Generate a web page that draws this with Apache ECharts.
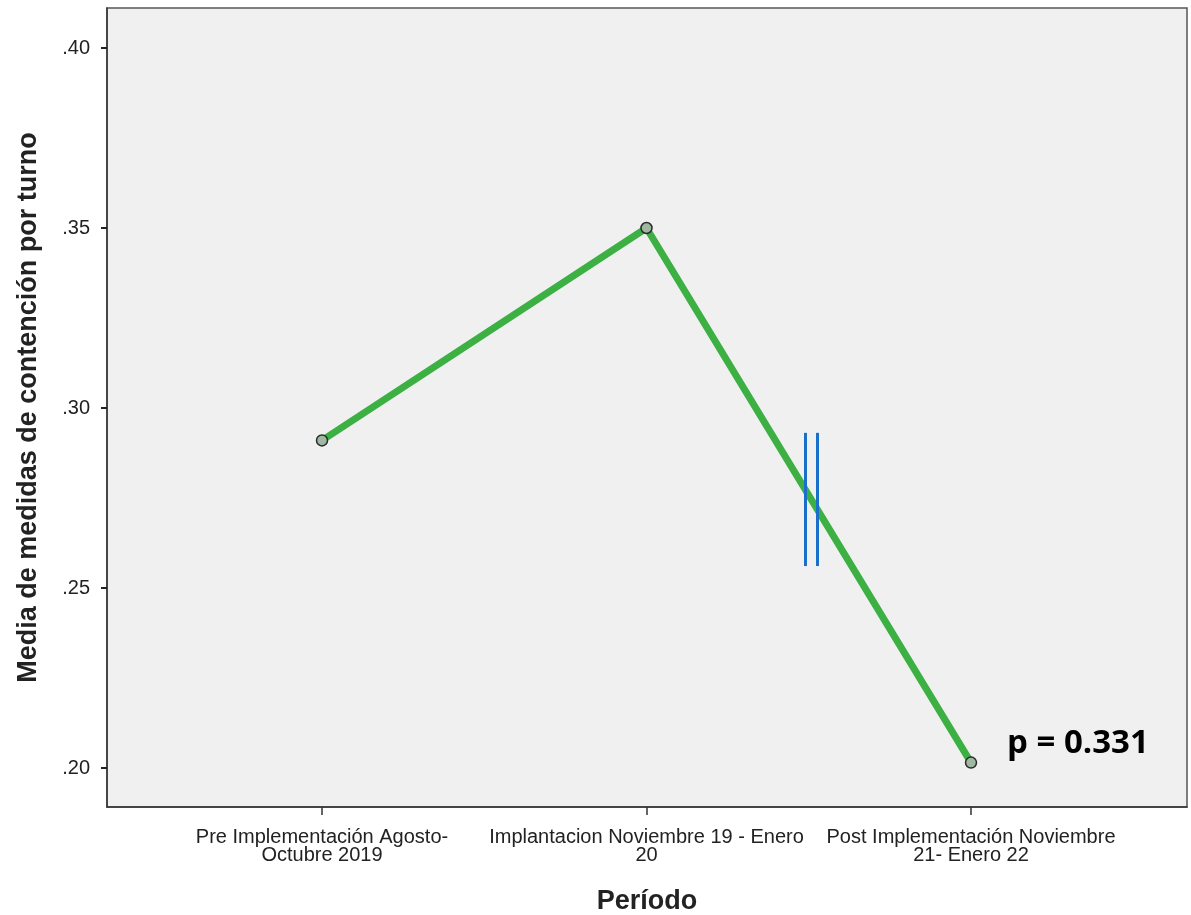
<!DOCTYPE html>
<html>
<head>
<meta charset="utf-8">
<script src="https://cdn.jsdelivr.net/npm/echarts@6/dist/echarts.min.js"></script>
<style>html,body{margin:0;padding:0;background:#fff;}#c{width:1191px;height:915px;}</style>
</head>
<body>
<div id="c"></div>
<script>
const categories = [
  'Pre Implementación Agosto-\nOctubre 2019',
  'Implantacion Noviembre 19 - Enero\n20',
  'Post Implementación Noviembre\n21- Enero 22'
];
const means = [0.291, 0.350, 0.2015];
const yTicks = [0.20, 0.25, 0.30, 0.35, 0.40];
const xTicks = [0, 1, 2];
// break marks (double bar) in data coordinates: [x, yStart, yEnd]
const breakMarks = [[1.488, 0.2931, 0.2561], [1.525, 0.2931, 0.2561]];
const pText = 'p = 0.331';

const chart = echarts.init(document.getElementById('c'), null, {renderer: 'canvas'});
const labelFont = {fontFamily: 'Liberation Sans, Arial, sans-serif', fontSize: 20, color: '#222'};
const titleFont = {fontFamily: 'Liberation Sans, Arial, sans-serif', fontWeight: 'bold', fontSize: 27, color: '#222'};
chart.setOption({
  animation: false,
  backgroundColor: '#ffffff',
  grid: {left: 107, right: 4, top: 8, bottom: 108, containLabel: false, outerBoundsMode: 'none',
    show: true, backgroundColor: '#f0f0f0', borderColor: '#555', borderWidth: 1.5},
  xAxis: {
    type: 'value', min: -0.6626, max: 2.6656,
    name: 'Período', nameLocation: 'middle', nameGap: 81,
    nameTextStyle: titleFont,
    axisLine: {show: true, onZero: false, lineStyle: {color: '#333', width: 1.5}},
    axisTick: {show: true, customValues: xTicks, length: 8, lineStyle: {color: '#333', width: 1.5}},
    axisLabel: Object.assign({customValues: xTicks, margin: 21, lineHeight: 18, align: 'center',
      formatter: v => categories[Math.round(v)] || ''}, labelFont),
    splitLine: {show: false}
  },
  yAxis: {
    type: 'value', min: 0.18917, max: 0.41111,
    name: 'Media de medidas de contención por turno', nameLocation: 'middle', nameGap: 65, nameRotate: 90,
    nameTextStyle: titleFont,
    axisLine: {show: true, onZero: false, lineStyle: {color: '#333', width: 1.5}},
    axisTick: {show: true, customValues: yTicks, length: 6, lineStyle: {color: '#222', width: 2}},
    axisLabel: Object.assign({customValues: yTicks, margin: 17,
      formatter: v => v.toFixed(2).replace(/^0/, '')}, labelFont),
    splitLine: {show: false}
  },
  series: [{
    type: 'line',
    data: means.map((v, i) => [xTicks[i], v]),
    lineStyle: {color: '#3cb043', width: 7},
    symbol: 'circle', symbolSize: 11,
    itemStyle: {color: '#9fb8a2', borderColor: '#2a2a2a', borderWidth: 1.5},
    z: 3,
    markLine: {
      silent: true, symbol: 'none', animation: false,
      lineStyle: {color: '#1a6fc9', width: 3, type: 'solid'},
      label: {show: false},
      data: breakMarks.map(b => [{coord: [b[0], b[1]]}, {coord: [b[0], b[2]]}])
    },
    markPoint: {
      silent: true, symbol: 'circle', symbolSize: 0,
      data: [{coord: [xTicks[2], means[2]], value: pText,
        label: {show: true, formatter: pText, position: 'right', offset: [31, -19],
          fontFamily: 'Open Sans, Noto Sans, sans-serif', fontWeight: 'bold', fontSize: 33, color: '#000'}}]
    }
  }]
});
</script>
</body>
</html>
